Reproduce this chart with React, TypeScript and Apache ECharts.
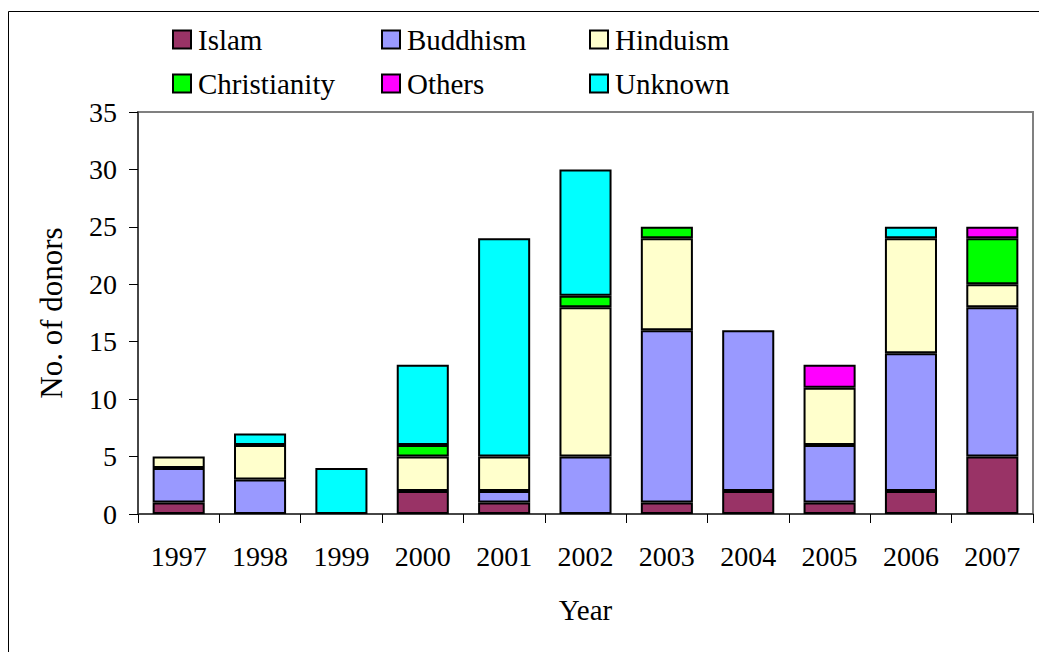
import React, { useEffect, useRef } from "react";
import * as echarts from "echarts";

const years = ["1997", "1998", "1999", "2000", "2001", "2002", "2003", "2004", "2005", "2006", "2007"];
const islam = [1, 0, 0, 2, 1, 0, 1, 2, 1, 2, 5];
const buddhism = [3, 3, 0, 0, 1, 5, 15, 14, 5, 12, 13];
const hinduism = [1, 3, 0, 3, 3, 13, 8, 0, 5, 10, 2];
const christianity = [0, 0, 0, 1, 0, 1, 1, 0, 0, 0, 4];
const others = [0, 0, 0, 0, 0, 0, 0, 0, 2, 0, 1];
const unknown = [0, 1, 4, 7, 19, 11, 0, 0, 0, 1, 0];

const seriesDefs = [
  { name: "Islam", data: islam, color: "#993366" },
  { name: "Buddhism", data: buddhism, color: "#9999FF" },
  { name: "Hinduism", data: hinduism, color: "#FFFFCC" },
  { name: "Christianity", data: christianity, color: "#00FF00" },
  { name: "Others", data: others, color: "#FF00FF" },
  { name: "Unknown", data: unknown, color: "#00FFFF" },
];

const FONT = "'Liberation Serif', 'Times New Roman', Times, serif";

export default function App() {
  const ref = useRef<HTMLDivElement>(null);
  useEffect(() => {
    document.body.style.margin = "0";
    const chart = echarts.init(ref.current!, null, { renderer: "svg" });
    const mkLegend = (names: string[], left: number) => ({
      orient: "vertical",
      left,
      top: 25,
      padding: 0,
      itemWidth: 18,
      itemHeight: 18,
      itemGap: 15,
      icon: "rect",
      data: names,
      textStyle: {
        fontFamily: FONT,
        fontSize: 29,
        color: "#000",
        lineHeight: 28,
        padding: [0, 0, 0, 2],
      },
      itemStyle: { borderColor: "#000", borderWidth: 2 },
      selectedMode: false,
    });
    chart.setOption({
      animation: false,
      backgroundColor: "#fff",
      textStyle: { fontFamily: FONT },
      graphic: [
        {
          type: "rect",
          shape: { x: 8.5, y: 11.5, width: 1100, height: 700 },
          style: { fill: "none", stroke: "#000", lineWidth: 1 },
          silent: true,
        },
      ],
      legend: [
        mkLegend(["Islam", "Christianity"], 172),
        mkLegend(["Buddhism", "Others"], 381),
        mkLegend(["Hinduism", "Unknown"], 589),
      ],
      grid: {
        left: 138,
        top: 112,
        right: 6,
        bottom: 138,
        show: true,
        borderColor: "#808080",
        borderWidth: 2,
        backgroundColor: "#fff",
      },
      xAxis: {
        type: "category",
        data: years,
        name: "Year",
        nameLocation: "middle",
        nameGap: 81,
        nameTextStyle: { fontFamily: FONT, fontSize: 29, color: "#000" },
        axisLine: { lineStyle: { color: "#333", width: 1.5 } },
        axisTick: { show: true, length: 9, lineStyle: { color: "#000" } },
        axisLabel: { fontFamily: FONT, fontSize: 28, color: "#000", margin: 28 },
      },
      yAxis: {
        type: "value",
        min: 0,
        max: 35,
        interval: 5,
        name: "No. of donors",
        nameLocation: "middle",
        nameGap: 71,
        nameTextStyle: { fontFamily: FONT, fontSize: 31, color: "#000" },
        splitLine: { show: false },
        axisLine: { show: true, lineStyle: { color: "#333", width: 1.5 } },
        axisTick: { show: true, length: 9, lineStyle: { color: "#000" } },
        axisLabel: { fontFamily: FONT, fontSize: 28, color: "#000", margin: 21 },
      },
      series: seriesDefs.map((s) => ({
        name: s.name,
        type: "bar",
        stack: "total",
        barWidth: "64%",
        data: s.data.map((v) => (v === 0 ? null : v)),
        itemStyle: { color: s.color, borderColor: "#000", borderWidth: 2 },
      })),
    });
    return () => chart.dispose();
  }, []);
  return <div ref={ref} style={{ width: 1039, height: 652 }} />;
}
